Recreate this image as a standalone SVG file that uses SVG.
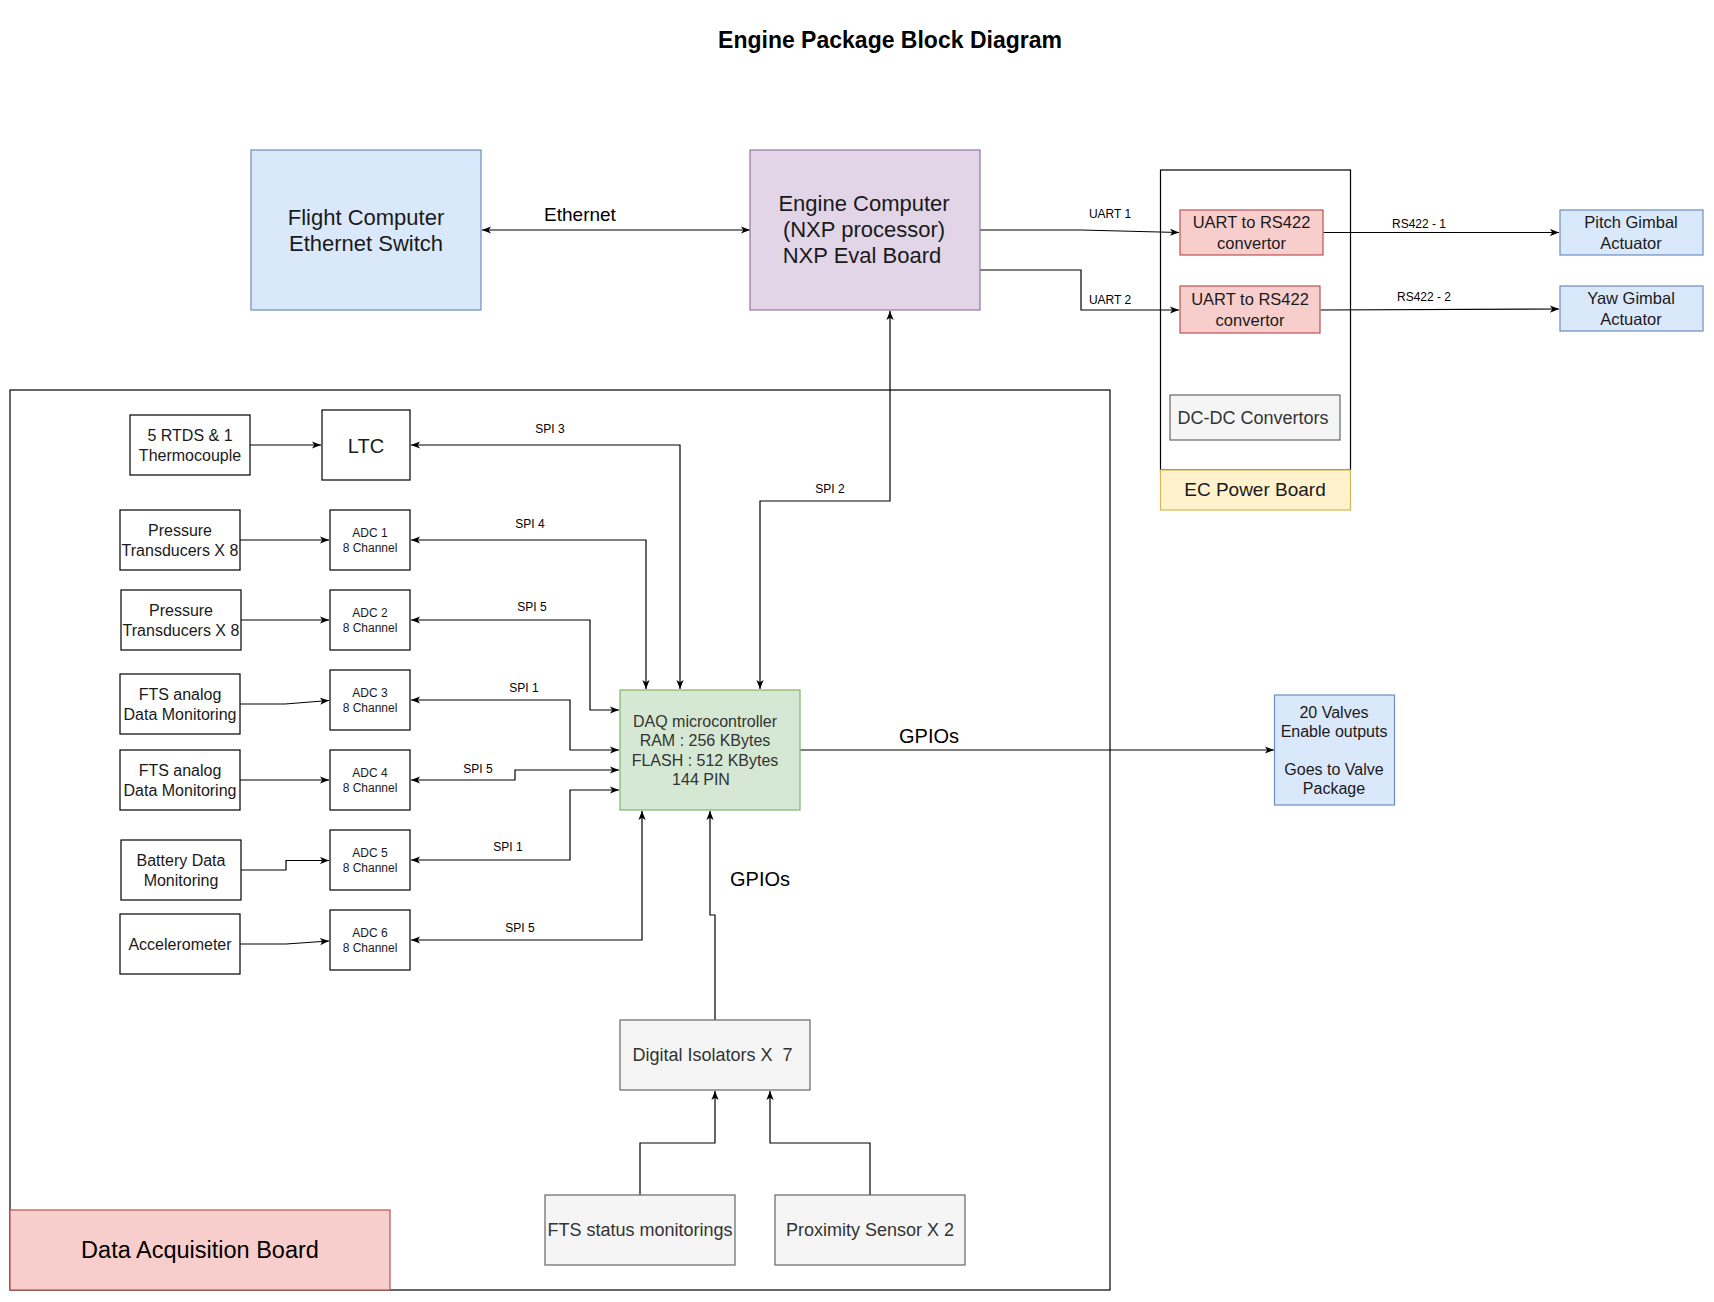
<svg xmlns="http://www.w3.org/2000/svg" width="1714" height="1302" viewBox="0 0 1714 1302">
<defs>
<marker id="arr" viewBox="0 0 10 8" refX="10" refY="4" markerWidth="9" markerHeight="7.2" markerUnits="userSpaceOnUse" orient="auto-start-reverse"><path d="M0,0 L10,4 L0,8 L2.5,4 Z" fill="#000"/></marker>
<style>
text{font-family:"Liberation Sans",Arial,Helvetica,sans-serif;fill:#1a1a1a;text-anchor:middle;dominant-baseline:central}
.cn path{fill:none;stroke:#000;stroke-width:1.2}
.e{marker-end:url(#arr)}
.b{marker-start:url(#arr);marker-end:url(#arr)}
rect{stroke-width:1.2}
.plain{fill:#fff;stroke:#000}
.blue{fill:#dae8fc;stroke:#6c8ebf}
.purple{fill:#e1d5e7;stroke:#9673a6}
.red{fill:#f8cecc;stroke:#b85450}
.yellow{fill:#fff2cc;stroke:#d6b656}
.grey{fill:#f5f5f5;stroke:#666666}
.green{fill:#d5e8d4;stroke:#82b366}
.frame{fill:none;stroke:#000}
.t12{font-size:12px}
.t16{font-size:16px}
.t165{font-size:16.5px}
.t18{font-size:18px}
.t20{font-size:20px}
.t22{font-size:22px}
.g3{fill:#333333}
.lbl{font-size:12px;fill:#000}
</style>
</defs>
<rect width="1714" height="1302" fill="#ffffff"/>
<text x="890" y="40" style="font-size:23px;font-weight:bold;fill:#000">Engine Package Block Diagram</text>

<g id="ec-power-board-frame"><rect class="frame" x="1160.5" y="170" width="190" height="300"/></g>
<g id="data-acquisition-board-frame"><rect class="frame" x="10" y="390" width="1100" height="900"/></g>

<g id="connectors" class="cn">
<path class="b" d="M482,230 H750"/>
<path class="e" d="M980,230 L1081,230 L1179,232.5"/>
<path class="e" d="M980,270 H1081 V310 H1179"/>
<path class="e" d="M1323.5,232.5 H1559"/>
<path class="e" d="M1320.5,310 L1559,309"/>
<path class="b" d="M890,311 V501 H760 V689"/>
<path class="e" d="M250,445 H321"/>
<path class="e" d="M240,540 H329"/>
<path class="e" d="M241,620 H329"/>
<path class="e" d="M240,704 L285,704 L329,700.5"/>
<path class="e" d="M240,780 H329"/>
<path class="e" d="M241,870 H286 V860.5 H329"/>
<path class="e" d="M240,944 L286,944 L329,941"/>
<path class="b" d="M411,445 H680 V689"/>
<path class="b" d="M411,540 H646 V689"/>
<path class="b" d="M411,620 H590 V710 H619"/>
<path class="b" d="M411,700 H570 V750 H619"/>
<path class="b" d="M411,780 H515 V770 H619"/>
<path class="b" d="M411,860 H570 V790 H619"/>
<path class="b" d="M411,940 H642 V811"/>
<path class="e" d="M800,750 H1274"/>
<path class="e" d="M715,1020 V915 H710 V811"/>
<path class="e" d="M640,1195 V1143 H715 V1091"/>
<path class="e" d="M870,1195 V1143 H770 V1091"/>
<text x="580" y="214" style="font-size:19px;fill:#000">Ethernet</text>
<text class="lbl" x="1110" y="214">UART 1</text>
<text class="lbl" x="1110" y="300">UART 2</text>
<text class="lbl" x="1419" y="224">RS422 - 1</text>
<text class="lbl" x="1424" y="297">RS422 - 2</text>
<text class="lbl" x="830" y="489">SPI 2</text>
<text class="lbl" x="550" y="429">SPI 3</text>
<text class="lbl" x="530" y="524">SPI 4</text>
<text class="lbl" x="532" y="607">SPI 5</text>
<text class="lbl" x="524" y="688">SPI 1</text>
<text class="lbl" x="478" y="769">SPI 5</text>
<text class="lbl" x="508" y="847">SPI 1</text>
<text class="lbl" x="520" y="928">SPI 5</text>
<text class="t20" x="929" y="736" style="fill:#000">GPIOs</text>
<text class="t20" x="760" y="879" style="fill:#000">GPIOs</text>
</g>

<g id="flight-computer"><rect class="blue" x="251" y="150" width="230" height="160"/>
<text class="t22" x="366" y="217">Flight Computer</text><text class="t22" x="366" y="243">Ethernet Switch</text></g>
<g id="engine-computer"><rect class="purple" x="750" y="150" width="230" height="160"/>
<text class="t22" x="864" y="203.5">Engine Computer</text><text class="t22" x="864" y="229.5">(NXP processor)</text><text class="t22" x="862" y="255.5">NXP Eval Board</text></g>
<g id="ec-power-board"><rect class="yellow" x="1160.5" y="470" width="190" height="40"/>
<text x="1255" y="489.5" style="font-size:19px">EC Power Board</text></g>
<g id="uart-rs422-1"><rect class="red" x="1180" y="210" width="143" height="45"/>
<text class="t165" x="1251.5" y="221.5">UART to RS422</text><text class="t165" x="1251.5" y="242.5">convertor</text></g>
<g id="uart-rs422-2"><rect class="red" x="1180" y="286" width="140" height="47"/>
<text class="t165" x="1250" y="298.5">UART to RS422</text><text class="t165" x="1250" y="320">convertor</text></g>
<g id="dc-dc-convertors"><rect class="grey" x="1170" y="395" width="170" height="45"/>
<text class="t18 g3" x="1253" y="418">DC-DC Convertors</text></g>
<g id="pitch-gimbal"><rect class="blue" x="1560" y="210" width="143" height="45"/>
<text class="t165" x="1631" y="221.5">Pitch Gimbal</text><text class="t165" x="1631" y="242.5">Actuator</text></g>
<g id="yaw-gimbal"><rect class="blue" x="1560" y="286" width="143" height="45"/>
<text class="t165" x="1631" y="298">Yaw Gimbal</text><text class="t165" x="1631" y="319">Actuator</text></g>

<g id="data-acquisition-board"><rect class="red" x="10" y="1210" width="380" height="80"/>
<text x="200" y="1250" style="font-size:23.5px;fill:#000">Data Acquisition Board</text></g>

<g id="rtds"><rect class="plain" x="130" y="415" width="120" height="60"/>
<text class="t16" x="190" y="435.5">5 RTDS &amp; 1</text><text class="t16" x="190" y="455.5">Thermocouple</text></g>
<g id="ltc"><rect class="plain" x="322" y="410" width="88" height="70"/>
<text class="t20" x="366" y="445.5">LTC</text></g>
<g id="pressure-1"><rect class="plain" x="120" y="510" width="120" height="60"/>
<text class="t16" x="180" y="530.5">Pressure</text><text class="t16" x="180" y="550.5">Transducers X 8</text></g>
<g id="adc-1"><rect class="plain" x="330" y="510" width="80" height="60"/>
<text class="t12" x="370" y="532.7">ADC 1</text><text class="t12" x="370" y="547.5">8 Channel</text></g>
<g id="pressure-2"><rect class="plain" x="121" y="590" width="120" height="60"/>
<text class="t16" x="181" y="610.5">Pressure</text><text class="t16" x="181" y="630">Transducers X 8</text></g>
<g id="adc-2"><rect class="plain" x="330" y="590" width="80" height="60"/>
<text class="t12" x="370" y="612.7">ADC 2</text><text class="t12" x="370" y="627.7">8 Channel</text></g>
<g id="fts-analog-1"><rect class="plain" x="120" y="674" width="120" height="60"/>
<text class="t16" x="180" y="694.7">FTS analog</text><text class="t16" x="180" y="714">Data Monitoring</text></g>
<g id="adc-3"><rect class="plain" x="330" y="670" width="80" height="60"/>
<text class="t12" x="370" y="692.7">ADC 3</text><text class="t12" x="370" y="707.7">8 Channel</text></g>
<g id="fts-analog-2"><rect class="plain" x="120" y="750" width="120" height="60"/>
<text class="t16" x="180" y="770.7">FTS analog</text><text class="t16" x="180" y="790">Data Monitoring</text></g>
<g id="adc-4"><rect class="plain" x="330" y="750" width="80" height="60"/>
<text class="t12" x="370" y="772.7">ADC 4</text><text class="t12" x="370" y="787.7">8 Channel</text></g>
<g id="battery"><rect class="plain" x="121" y="840" width="120" height="60"/>
<text class="t16" x="181" y="860.3">Battery Data</text><text class="t16" x="181" y="880">Monitoring</text></g>
<g id="adc-5"><rect class="plain" x="330" y="830" width="80" height="60"/>
<text class="t12" x="370" y="852.7">ADC 5</text><text class="t12" x="370" y="867.7">8 Channel</text></g>
<g id="accelerometer"><rect class="plain" x="120" y="914" width="120" height="60"/>
<text class="t16" x="180" y="944.3">Accelerometer</text></g>
<g id="adc-6"><rect class="plain" x="330" y="910" width="80" height="60"/>
<text class="t12" x="370" y="932.7">ADC 6</text><text class="t12" x="370" y="947.7">8 Channel</text></g>

<g id="daq-microcontroller"><rect class="green" x="620" y="690" width="180" height="120"/>
<text class="t16 g3" x="705" y="721">DAQ microcontroller</text><text class="t16 g3" x="705" y="740.5">RAM : 256 KBytes</text><text class="t16 g3" x="705" y="760">FLASH : 512 KBytes</text><text class="t16 g3" x="701" y="779">144 PIN</text></g>
<g id="valves"><rect class="blue" x="1274.5" y="695" width="120" height="110"/>
<text class="t16" x="1334" y="712.5">20 Valves</text><text class="t16" x="1334" y="731.5">Enable outputs</text><text class="t16" x="1334" y="769.5">Goes to Valve</text><text class="t16" x="1334" y="788.5">Package</text></g>
<g id="digital-isolators"><rect class="grey" x="620" y="1020" width="190" height="70"/>
<text class="t18 g3" x="712.5" y="1055">Digital Isolators X&#160; 7</text></g>
<g id="fts-status"><rect class="grey" x="545" y="1195" width="190" height="70"/>
<text class="t18 g3" x="640" y="1230">FTS status monitorings</text></g>
<g id="proximity-sensor"><rect class="grey" x="775" y="1195" width="190" height="70"/>
<text class="t18 g3" x="870" y="1230">Proximity Sensor X 2</text></g>
</svg>
